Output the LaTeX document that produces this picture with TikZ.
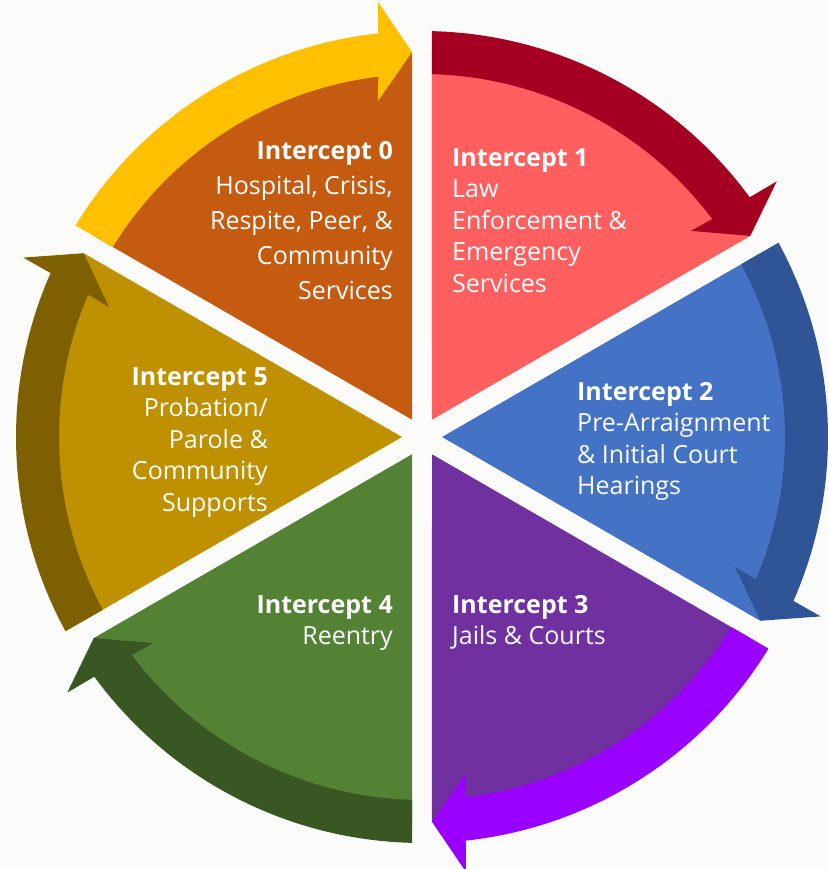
\documentclass[tikz,border=0pt]{standalone}
\usepackage{fontspec}
\setmainfont{Open Sans}
\usetikzlibrary{calc}

\definecolor{bgwhite}{RGB}{251,251,249}
\definecolor{sect0}{RGB}{197,90,17}
\definecolor{sect1}{RGB}{255,95,95}
\definecolor{sect2}{RGB}{68,114,196}
\definecolor{sect3}{RGB}{112,48,160}
\definecolor{sect4}{RGB}{84,130,53}
\definecolor{sect5}{RGB}{191,144,0}
\definecolor{arr0}{RGB}{255,192,0}
\definecolor{arr1}{RGB}{165,0,33}
\definecolor{arr2}{RGB}{47,85,151}
\definecolor{arr3}{RGB}{153,0,255}
\definecolor{arr4}{RGB}{56,87,35}
\definecolor{arr5}{RGB}{127,96,0}

% wedge between two gaps: #1 lower angle, #2 colour
\newcommand{\sector}[2]{%
  \fill[#2] ({#1+30}:20) -- ({#1+asin(10/385)}:385)
    arc[start angle={#1+asin(10/385)}, end angle={#1+60-asin(10/385)}, radius=385]
    -- cycle;}
% curved arrow, clockwise from gap #1 to gap #2
\newcommand{\cyclearrow}[3]{%
  \fill[#3] ({#1-asin(10/406)}:406)
    arc[start angle={#1-asin(10/406)}, end angle={#2+atan(44/406)}, radius=406]
    -- ($({#2}:385)+({#2+90}:44)+({#2}:50)$)
    -- ({#2+asin(10/385)}:385)
    -- ($({#2}:385)+({#2+90}:44)+({#2}:-49)$)
    -- ({#2+atan(44/363)}:363)
    arc[start angle={#2+atan(44/363)}, end angle={#1-asin(10/363)}, radius=363]
    -- cycle;}

\begin{document}
\begin{tikzpicture}
 [x=1pt, y=1pt,
 caption/.style={
  text=white,
  inner sep=0pt,
  font=\fontsize{25}{31.5}\selectfont},
 leftcap/.style={caption, align=right, anchor=north east},
 rightcap/.style={caption, align=left, anchor=north west}]
\fill[bgwhite] (-422,-432) rectangle (406,437);
\useasboundingbox (-422,-432) rectangle (406,437);
\sector{90}{sect0}
\sector{30}{sect1}
\sector{-30}{sect2}
\sector{-90}{sect3}
\sector{-150}{sect4}
\sector{150}{sect5}
\cyclearrow{150}{90}{arr0}
\cyclearrow{90}{30}{arr1}
\cyclearrow{30}{-30}{arr2}
\cyclearrow{-30}{-90}{arr3}
\cyclearrow{-90}{-150}{arr4}
\cyclearrow{210}{150}{arr5}
\node (icpt0) [leftcap, font=\fontsize{25}{35}\selectfont] at (-29,296) {\textbf{Intercept 0}\\Hospital, Crisis,\\Respite, Peer, \&\\Community\\Services};
\node (icpt1) [rightcap] at (30,289) {\textbf{Intercept 1}\\Law\\Enforcement \&\\Emergency\\Services};
\node (icpt2) [rightcap] at (155,55) {\textbf{Intercept 2}\\Pre-Arraignment\\\& Initial Court\\Hearings};
\node (icpt3) [rightcap] at (30,-158) {\textbf{Intercept 3}\\Jails \& Courts};
\node (icpt4) [leftcap] at (-29,-158) {\textbf{Intercept 4}\\Reentry};
\node (icpt5) [leftcap] at (-154,70) {\textbf{Intercept 5}\\Probation/\\Parole \&\\Community\\Supports};
\end{tikzpicture}
\end{document}
